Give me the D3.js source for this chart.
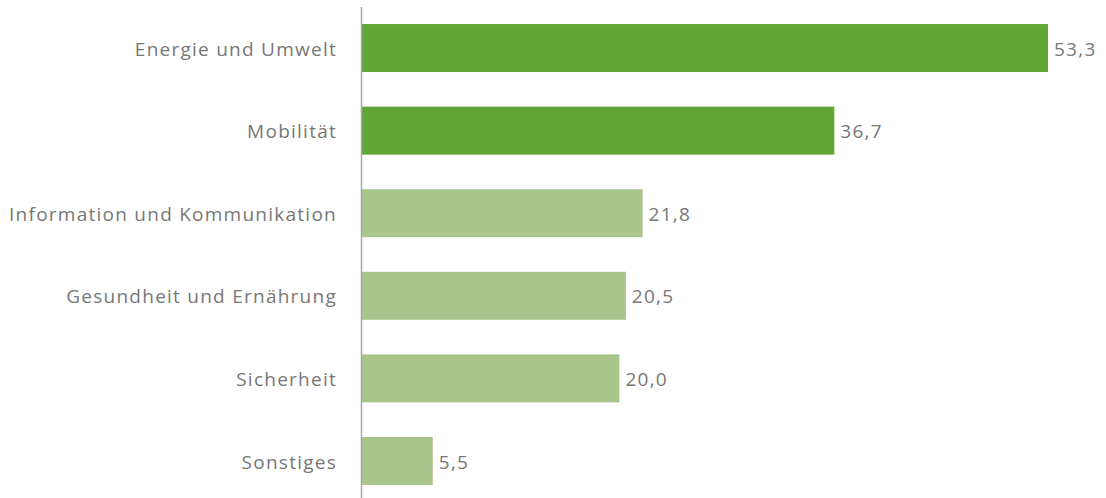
<!DOCTYPE html>
<html>
<head>
<meta charset="utf-8">
<script src="https://cdn.jsdelivr.net/npm/d3@7"></script>
<style>
  body { margin: 0; background: #fff; }
  text { font-family: "Open Sans", sans-serif; fill: #777777; }
</style>
</head>
<body>
<svg id="chart"></svg>
<script>
// data
var categories = ["Energie und Umwelt", "Mobilität", "Information und Kommunikation",
                  "Gesundheit und Ernährung", "Sicherheit", "Sonstiges"];
var values = [53.3, 36.7, 21.8, 20.5, 20.0, 5.5];
var highlighted = [true, true, false, false, false, false];

var w = 1106, h = 498;
var svg = d3.select("#chart").attr("width", w).attr("height", h);

var x = d3.scaleLinear()
    .domain([0, d3.max(values)])
    .range([362, 1048]);

var y = d3.scaleBand()
    .domain(categories)
    .range([6.7, 502.3])
    .paddingInner(0.419)
    .paddingOuter(0.21);

var rows = categories.map(function(c, i) {
    return {name: c, value: values[i], hi: highlighted[i]};
});

svg.selectAll(".bar")
    .data(rows)
    .enter()
    .append("rect")
    .attr("class", "bar")
    .attr("x", x(0))
    .attr("y", function(d) { return y(d.name); })
    .attr("height", y.bandwidth())
    .attr("width", function(d) { return x(d.value) - x(0); })
    .attr("fill", function(d) { return d.hi ? "#61a535" : "#a9c58b"; });

// category labels
svg.selectAll(".cat")
    .data(rows)
    .enter()
    .append("text")
    .attr("class", "cat")
    .attr("x", 337)
    .attr("y", function(d) { return y(d.name) + y.bandwidth() / 2; })
    .attr("dy", "0.4em")
    .attr("text-anchor", "end")
    .style("font-size", "19px")
    .style("letter-spacing", "1.25px")
    .text(function(d) { return d.name; });

// value labels, German decimal comma
var fmt = d3.format(".1f");
svg.selectAll(".val")
    .data(rows)
    .enter()
    .append("text")
    .attr("class", "val")
    .attr("x", function(d) { return x(d.value) + 6; })
    .attr("y", function(d) { return y(d.name) + y.bandwidth() / 2; })
    .attr("dy", "0.4em")
    .style("font-size", "19px")
    .style("letter-spacing", "1.25px")
    .text(function(d) { return fmt(d.value).replace(".", ","); });

// axis line
svg.append("line")
    .attr("x1", 361.5).attr("x2", 361.5)
    .attr("y1", 7).attr("y2", h)
    .attr("stroke", "#a6a6a6")
    .attr("stroke-width", 1.5);
</script>
</body>
</html>
